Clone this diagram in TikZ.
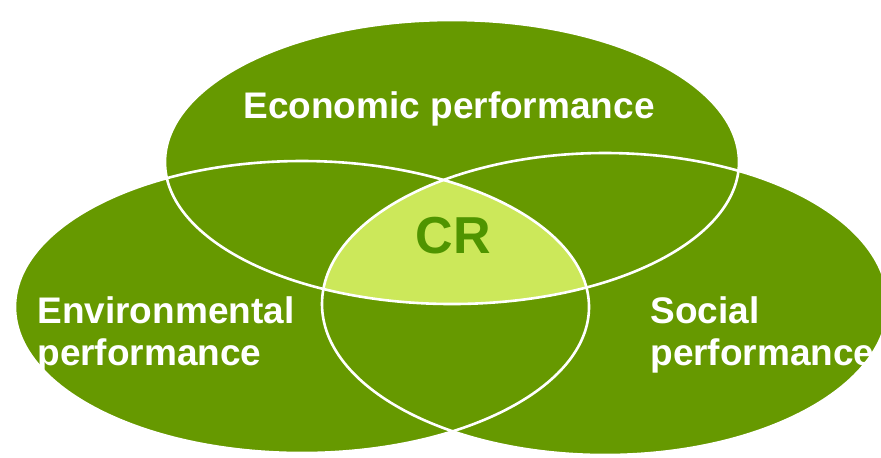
\documentclass[tikz,border=0pt]{standalone}
\usepackage{fontspec}
\setmainfont{Liberation Sans}
\usepackage{tikz}
\usetikzlibrary{positioning}
\usepackage{xcolor}
\definecolor{LeafGreen}{HTML}{669900}
\definecolor{LimeGreen}{HTML}{CCE85A}
\definecolor{DeepGreen}{HTML}{4F9400}
\tikzset{%
  venn_area/.style={%
    fill=LeafGreen,%
  },
  venn_core/.style={%
    fill=LimeGreen,%
  },
  venn_edge/.style={%
    draw=white,%
    line width=1.3pt,%
  },
  area_label/.style={%
    text=white,%
    font={\fontsize{18.5}{21}\selectfont\bfseries},%
    align=left,%
    inner sep=0pt,%
  },
  core_label/.style={%
    text=DeepGreen,%
    font={\fontsize{26}{30}\selectfont\bfseries},%
    inner sep=0pt,%
  },
}

\begin{document}
\begin{tikzpicture}[x=0.5pt, y=-0.5pt]

    \clip (0,0) rectangle (881,457);

    % the three areas
    \fill [venn_area] (452,162) ellipse [x radius=287, y radius=142];
    \fill [venn_area] (302,307) ellipse [x radius=287, y radius=146];
    \fill [venn_area] (605,304) ellipse [x radius=283, y radius=151];

    % where all three meet
    \begin{scope}
      \clip (452,162) ellipse [x radius=287, y radius=142];
      \clip (302,307) ellipse [x radius=287, y radius=146];
      \fill [venn_core] (605,304) ellipse [x radius=283, y radius=151];
    \end{scope}

    \draw [venn_edge] (452,162) ellipse [x radius=287, y radius=142];
    \draw [venn_edge] (302,307) ellipse [x radius=287, y radius=146];
    \draw [venn_edge] (605,304) ellipse [x radius=283, y radius=151];

    \node [area_label, anchor=base] (Econ) at (449,118) {Economic performance};
    \node [area_label, anchor=base west] (Env) at (37,365)
      {Environmental\\performance};
    \node [area_label, anchor=base west] (Soc) at (650,365)
      {Social\\performance};
    \node [core_label, anchor=base] (CR) at (453,253) {CR};

  \end{tikzpicture}
\end{document}
